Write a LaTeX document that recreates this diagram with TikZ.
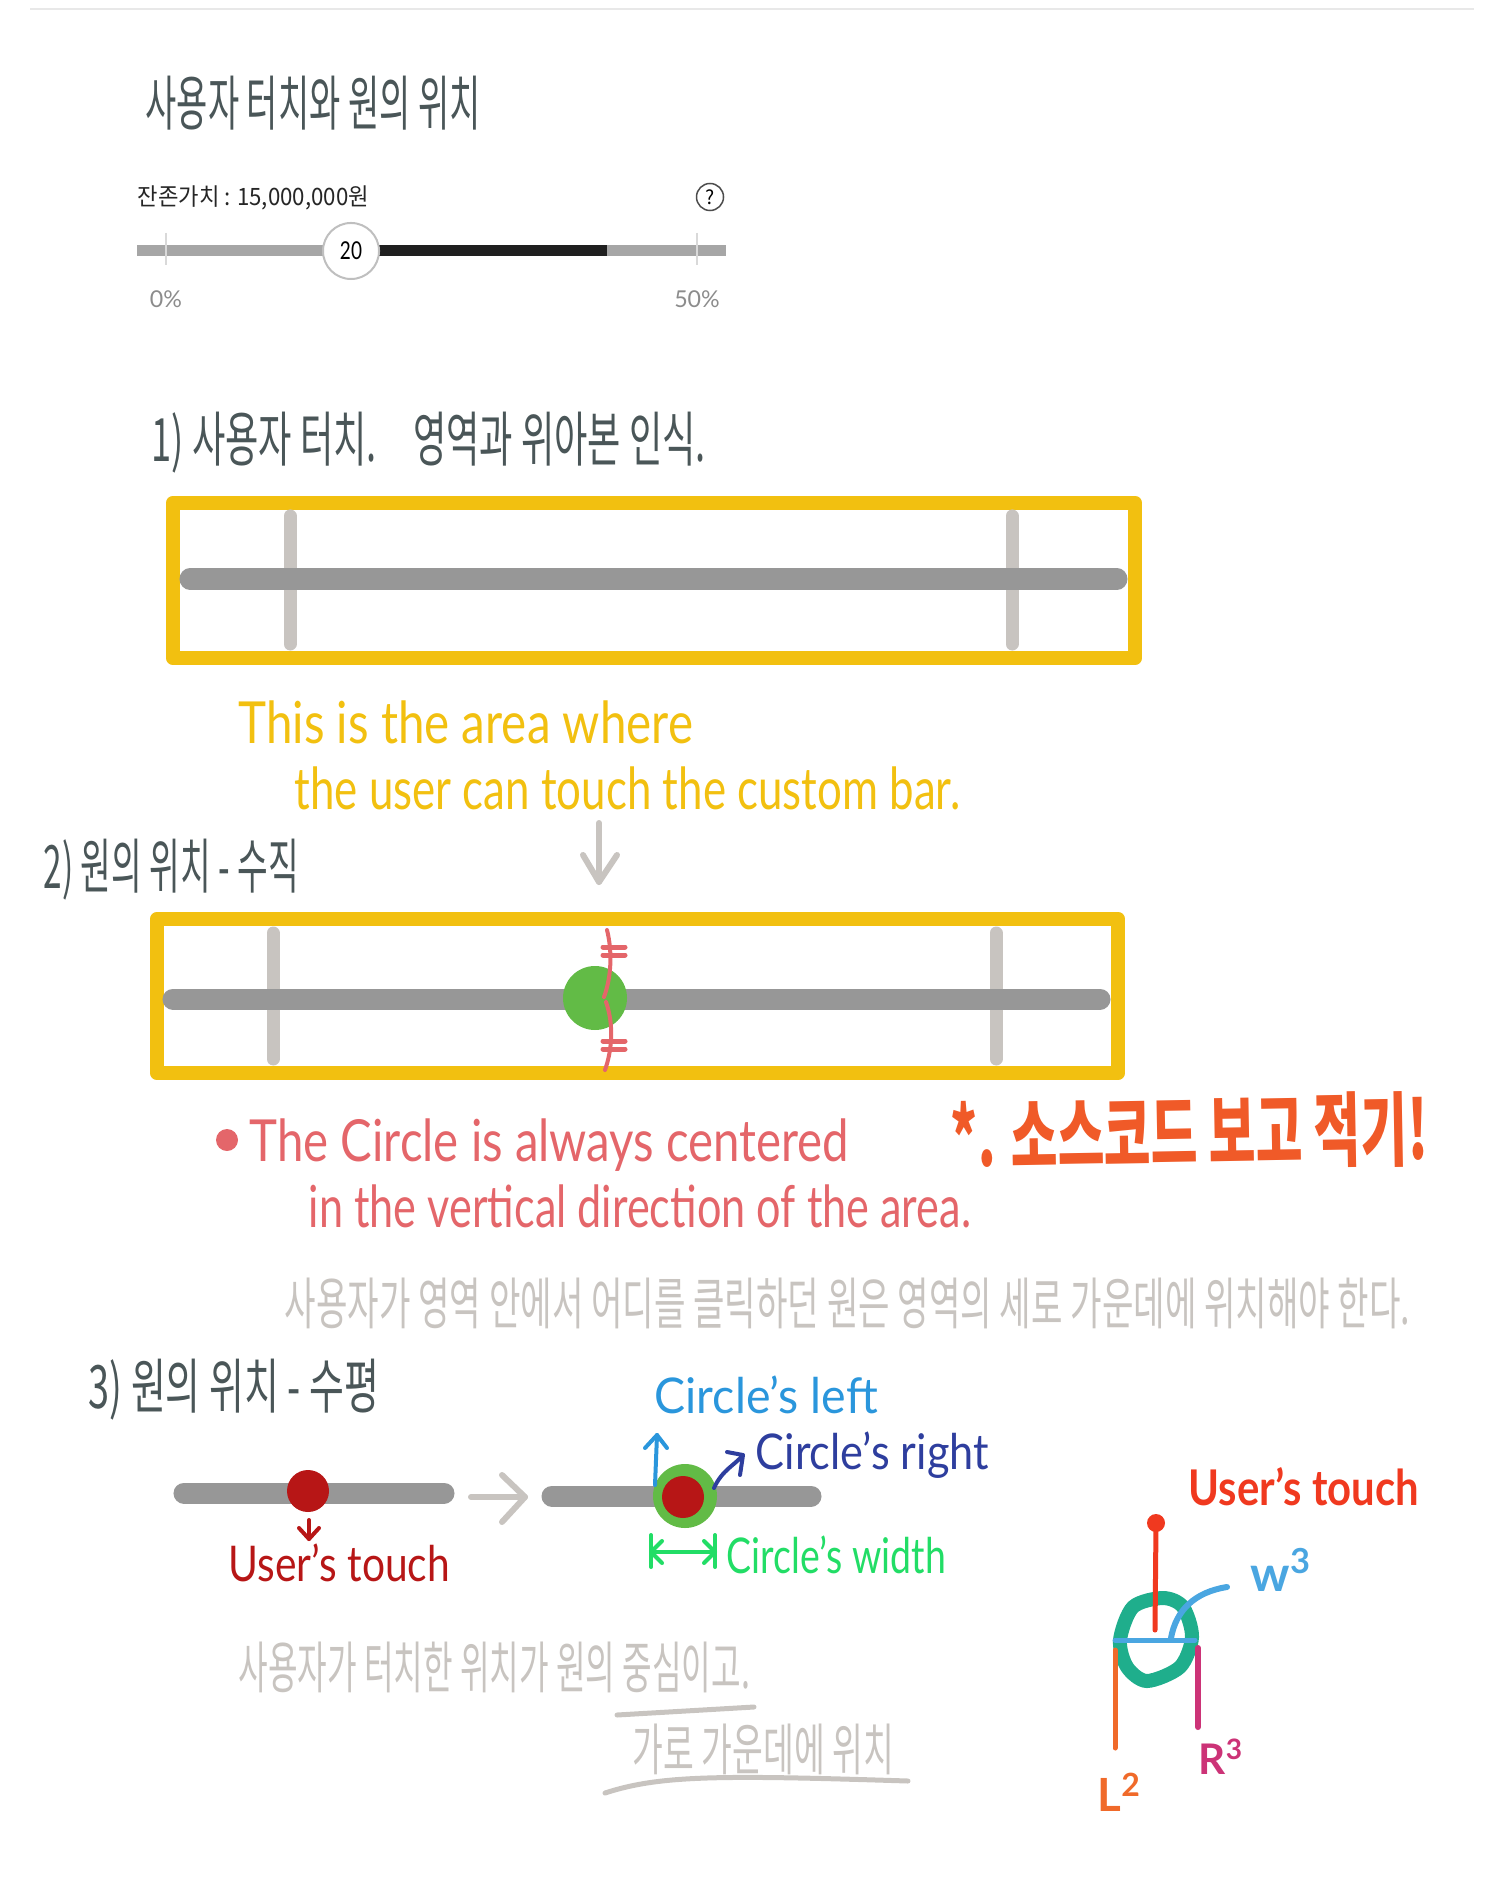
\documentclass[tikz,border=0pt]{standalone}
\usepackage{fontspec}
\usepackage{graphicx}
\setmainfont{Lato}
\newfontfamily\krfont{Noto Sans CJK KR}
\usetikzlibrary{calc}

\newcommand{\fitted}[2]{\resizebox{#1}{\height}{#2}}

\definecolor{inkSlate}{HTML}{4A5658}
\definecolor{inkYellow}{HTML}{F2C010}
\definecolor{inkCoral}{HTML}{E4666A}
\definecolor{inkOrange}{HTML}{F05A28}
\definecolor{inkGray}{HTML}{C8C4C0}
\definecolor{barGray}{HTML}{979797}
\definecolor{inkGreen}{HTML}{62BB46}
\definecolor{inkRed}{HTML}{B71616}
\definecolor{inkBlue}{HTML}{2A96DC}
\definecolor{inkNavy}{HTML}{2E3E9E}
\definecolor{inkLime}{HTML}{22DD66}
\definecolor{inkTouch}{HTML}{F0391F}
\definecolor{inkTeal}{HTML}{1FAE8C}
\definecolor{inkPink}{HTML}{CC3377}
\definecolor{inkCarrot}{HTML}{F06A2A}

\tikzset{
  x=0.01cm, y=-0.01cm,
  ink/.style={anchor=west, inner sep=0pt},
  slatetext/.style={ink, text=inkSlate, font=\krfont\fontsize{17}{17}\selectfont},
  graytext/.style={ink, text=inkGray, font=\krfont\fontsize{16}{16}\selectfont},
  latin/.style={ink, font=\fontsize{#1}{#1}\selectfont},
  touchbox/.style={draw=inkYellow, line width=0.145cm, line join=round},
  trackbar/.style={barGray, line width=0.21cm, line cap=round},
  limitbar/.style={inkGray, line width=0.13cm, line cap=round},
  grayarrow/.style={inkGray, line width=0.06cm, line cap=round, line join=round},
  pen/.style={line width=#1*0.01cm, line cap=round, line join=round}
}

\begin{document}
\begin{tikzpicture}
    \useasboundingbox (0,0) rectangle (1500,1895);

    % Rule at the top
    \coordinate (ruleL) at (30,9);
    \coordinate (ruleR) at (1474,9);
    \draw[black!9, line width=0.025cm] (ruleL) -- (ruleR);

    % Title and the slider
    \node[slatetext] (title) at (145,103) {\fitted{3.35cm}{사용자 터치와 원의 위치}};
    \node[ink, text=black!85, font=\krfont\fontsize{6.8}{7}\selectfont] (value) at (137,198) {\fitted{2.31cm}{잔존가치 : 15,000,000원}};
    \node[circle, draw=black!70, line width=0.015cm, minimum size=0.27cm, inner sep=0pt, font=\krfont\fontsize{5.5}{6}\selectfont] (help) at (710,197) {?};

    \coordinate (sliderL) at (137,251);
    \coordinate (sliderR) at (726,251);
    \coordinate (darkL) at (379,251);
    \coordinate (darkR) at (607,251);
    \draw[gray!70, line width=0.11cm] (sliderL) -- (sliderR);
    \draw[black!88, line width=0.11cm] (darkL) -- (darkR);
    \draw[black!15, line width=0.02cm] (166,233) -- (166,265);
    \draw[black!15, line width=0.02cm] (697,233) -- (697,265);
    \node[circle, draw=black!25, fill=white, line width=0.02cm, minimum size=0.56cm, inner sep=0pt, font=\fontsize{7}{7}\selectfont] (knob) at (351,251) {\fitted{0.22cm}{20}};
    \node[text=black!45, font=\fontsize{6.6}{7}\selectfont, inner sep=0pt] (low) at (166,299) {0\%};
    \node[text=black!45, font=\fontsize{6.6}{7}\selectfont, inner sep=0pt] (high) at (697,299) {50\%};

    % Touch area
    \node[slatetext] (step1) at (151,443) {\fitted{5.54cm}{1) 사용자 터치.\quad 영역과 위아본 인식.}};
    \draw[touchbox] (173,503) rectangle (1135,658);
    \draw[limitbar] (290,516) -- (290,644);
    \draw[limitbar] (1012,516) -- (1012,644);
    \draw[trackbar] (190,579) -- (1117,579);

    \node[latin=16.5, text=inkYellow] (areaA) at (238,722) {\fitted{4.54cm}{This is the area where}};
    \node[latin=16.5, text=inkYellow] (areaB) at (294,788) {\fitted{6.65cm}{the user can touch the custom bar.}};

    \coordinate (downA) at (599,823);
    \coordinate (downB) at (599,882);
    \draw[grayarrow] (downA) -- (downB);
    \draw[grayarrow] (583,855) -- (downB) -- (617,855);

    % Vertical position
    \node[slatetext] (step2) at (43,870) {\fitted{2.55cm}{2) 원의 위치 - 수직}};
    \draw[touchbox] (157,919) rectangle (1118,1073);
    \draw[limitbar] (273,933) -- (273,1059);
    \draw[limitbar] (996,933) -- (996,1059);
    \draw[trackbar] (173,999) -- (1100,999);
    \fill[inkGreen] (595,998) circle (32);

    % The equal marks
    \draw[inkCoral, pen=4] (607,930) .. controls (612,950) and (612,975) .. (604,997);
    \draw[inkCoral, pen=4] (606,1002) .. controls (614,1025) and (612,1050) .. (605,1070);
    \draw[inkCoral, pen=5] (603,947) -- (625,947);
    \draw[inkCoral, pen=5] (603,955) -- (625,955);
    \draw[inkCoral, pen=5] (603,1041) -- (625,1041);
    \draw[inkCoral, pen=5] (603,1049) -- (625,1049);

    \fill[inkCoral] (227,1140) circle (11);
    \node[latin=16.5, text=inkCoral] (noteA) at (249,1145) {\fitted{5.99cm}{The Circle is always centered}};
    \node[latin=16.5, text=inkCoral] (noteB) at (308,1206) {\fitted{6.62cm}{in the vertical direction of the area.}};
    \node[ink, text=inkOrange, rotate=1, font=\krfont\bfseries\fontsize{23}{23}\selectfont] (source) at (950,1137) {\fitted{4.77cm}{*. 소스코드 보고 적기!}};
    \node[graytext] (noteC) at (284,1303) {\fitted{11.25cm}{사용자가 영역 안에서 어디를 클릭하던 원은 영역의 세로 가운데에 위치해야 한다.}};

    % Horizontal position
    \node[slatetext] (step3) at (88,1390) {\fitted{2.9cm}{3) 원의 위치 - 수평}};
    \draw[trackbar] (184,1493) -- (444,1493);
    \fill[inkRed] (308,1491) circle (21);
    \coordinate (touchA) at (309,1520);
    \coordinate (touchB) at (309,1539);
    \draw[inkRed, pen=4] (touchA) -- (touchB);
    \draw[inkRed, pen=4] (299,1528) -- (touchB) -- (319,1528);
    \node[latin=14, text=inkRed] (touchL) at (228,1563) {\fitted{2.21cm}{User's touch}};

    \coordinate (nextA) at (471,1497);
    \coordinate (nextB) at (525,1497);
    \draw[grayarrow] (nextA) -- (nextB);
    \draw[grayarrow] (502,1475) -- (nextB) -- (502,1522);

    \draw[trackbar] (552,1496) -- (811,1496);
    \fill[inkGreen] (685,1496) circle (32);
    \fill[inkRed] (683,1497) circle (21);

    % Labels of the circle
    \node[latin=14, text=inkBlue] (leftL) at (654,1395) {\fitted{2.23cm}{Circle's left}};
    \coordinate (leftA) at (655,1485);
    \coordinate (leftB) at (657,1435);
    \draw[inkBlue, pen=4] (leftA) -- (leftB);
    \draw[inkBlue, pen=4] (645,1448) -- (leftB) -- (667,1448);

    \node[latin=14, text=inkNavy] (rightL) at (755,1455) {\fitted{2.33cm}{Circle's right}};
    \coordinate (rightA) at (714,1488);
    \coordinate (rightB) at (743,1455);
    \draw[inkNavy, pen=4] (rightA) .. controls (722,1470) and (735,1465) .. (rightB);
    \draw[inkNavy, pen=4] (727,1452) -- (rightB) -- (740,1475);

    \node[latin=14, text=inkLime] (widthL) at (726,1555) {\fitted{2.19cm}{Circle's width}};
    \coordinate (widthA) at (651,1552);
    \coordinate (widthB) at (715,1552);
    \draw[inkLime, pen=4] (widthA) -- (widthB);
    \draw[inkLime, pen=4] (651,1535) -- (651,1567);
    \draw[inkLime, pen=4] (715,1535) -- (715,1567);
    \draw[inkLime, pen=4] (662,1541) -- (widthA) -- (662,1563);
    \draw[inkLime, pen=4] (704,1541) -- (widthB) -- (704,1563);

    % Grey remarks
    \node[graytext] (noteD) at (238,1667) {\fitted{5.11cm}{사용자가 터치한 위치가 원의 중심이고.}};
    \draw[inkGray, pen=5] (617,1715) -- (754,1707);
    \node[graytext] (noteE) at (632,1749) {\fitted{2.61cm}{가로 가운데에 위치}};
    \draw[inkGray, pen=5] (605,1793) .. controls (660,1775) and (720,1775) .. (908,1781);

    % Sketch on the right
    \node[latin=14, text=inkTouch, font=\bfseries\fontsize{14}{14}\selectfont] (touchR) at (1188,1487) {\fitted{2.3cm}{User's touch}};
    \draw[inkTeal, line width=0.14cm, smooth cycle] plot coordinates {(1120,1640) (1133,1607) (1163,1598) (1183,1607) (1192,1637) (1180,1667) (1147,1681) (1127,1667)};
    \coordinate (pinA) at (1156,1523);
    \coordinate (pinB) at (1155,1630);
    \fill[inkTouch] (pinA) circle (9);
    \draw[inkTouch, pen=5] (pinA) -- (pinB);

    \coordinate (wideL) at (1115,1640);
    \coordinate (wideR) at (1195,1640);
    \coordinate (wideA) at (1171,1638);
    \coordinate (wideB) at (1227,1587);
    \draw[inkBlue!85!white, pen=5] (wideL) -- (wideR);
    \draw[inkBlue!85!white, pen=6] (wideA) .. controls (1176,1610) and (1195,1592) .. (wideB);
    \node[latin=14, text=inkBlue!85!white, font=\bfseries\fontsize{14}{14}\selectfont] (wlabel) at (1250,1570) {w\textsuperscript{3}};

    \coordinate (lineLA) at (1115,1650);
    \coordinate (lineLB) at (1115,1748);
    \coordinate (lineRA) at (1198,1648);
    \coordinate (lineRB) at (1198,1727);
    \draw[inkCarrot, pen=5] (lineLA) -- (lineLB);
    \draw[inkPink, pen=6] (lineRA) -- (lineRB);
    \node[latin=14, text=inkCarrot, font=\bfseries\fontsize{13}{13}\selectfont] (llabel) at (1097,1792) {L\textsuperscript{2}};
    \node[latin=14, text=inkPink, font=\bfseries\fontsize{12}{12}\selectfont] (rlabel) at (1198,1757) {R\textsuperscript{3}};
\end{tikzpicture}
\end{document}
